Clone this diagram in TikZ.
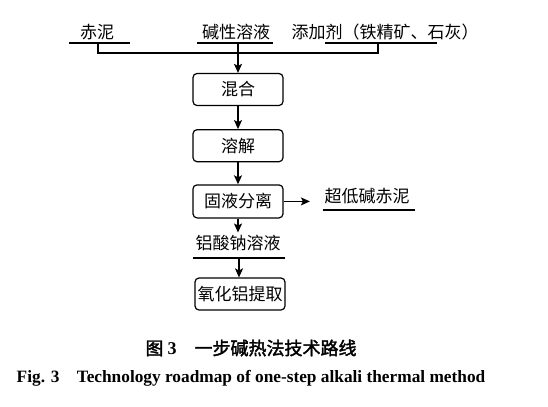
\documentclass[tikz,border=0pt]{standalone}
\usepackage{fontspec}
\setmainfont{Liberation Serif}
\newfontfamily\cjk{Noto Sans CJK SC}[AutoFakeBold=2]
\usetikzlibrary{positioning,arrows.meta}

\tikzset{
  procbox/.style={draw, rounded corners=4bp, minimum width=90bp, minimum height=32bp, inner sep=1bp, font=\cjk\fontsize{17bp}{20bp}\selectfont},
  lbl/.style={inner sep=0pt, font=\cjk\fontsize{17bp}{20bp}\selectfont},
  flow/.style={-{Stealth[length=9bp,width=8bp,inset=2bp]}, line width=1.3bp},
  uline/.style={line width=1.3bp},
}

\begin{document}
\begin{tikzpicture}[x=1bp, y=-1bp, line width=1.2bp]
\useasboundingbox (0,0) rectangle (548,406);

% raw materials
\node[lbl] (redmud) at (97,32) {赤泥};
\node[lbl] (alkali) at (236,32) {碱性溶液};
\node[lbl] (additive) at (385,32) {添加剂（铁精矿、石灰）};
\coordinate (rmL) at (69,43);  \coordinate (rmR) at (130,43);
\coordinate (alL) at (197,43); \coordinate (alR) at (273,43);
\coordinate (adL) at (325,43); \coordinate (adR) at (437,43);
\draw[uline] (rmL) -- (rmR);
\draw[uline] (alL) -- (alR);
\draw[uline] (adL) -- (adR);
\coordinate (rmD) at (98,43);
\coordinate (alD) at (238,43);
\coordinate (adD) at (378,43);
\draw[uline] (rmD) |- (238,53) -| (adD);

% process
\node[procbox] (mix) at (238,89.5) {混合};
\node[procbox, below=23bp of mix] (dissolve) {溶解};
\node[procbox, below=22bp of dissolve, minimum height=33bp] (sep) {固液分离};
\node[lbl] (aluminate) at (238,243) {铝酸钠溶液};
\coordinate (alumL) at (193,258); \coordinate (alumR) at (285,258);
\coordinate (alumD) at (239,258);
\draw[uline] (alumL) -- (alumR);
\node[procbox] (extract) at (240,294) {氧化铝提取};
\node[lbl] (residue) at (367,196) {超低碱赤泥};
\coordinate (resL) at (323,210); \coordinate (resR) at (415,210);
\draw[uline] (resL) -- (resR);

\draw[flow] (alD) -- (mix);
\draw[flow] (mix) -- (dissolve);
\draw[flow] (dissolve) -- (sep);
\draw[flow, shorten >=2bp] (sep.south) -- (sep.south |- aluminate.north);
\draw[flow] (alumD) -- (alumD |- extract.north);
\draw[flow, shorten >=14bp] (sep.east) -- (sep.east -| residue.west);

% caption
\node[inner sep=0pt, font=\fontsize{18bp}{21bp}\selectfont] (capcn) at (251,348)
  {\cjk\bfseries 图\ {\rmfamily 3}\hspace{1em}一步碱热法技术路线};
\node[inner sep=0pt, font=\bfseries\fontsize{17.3bp}{20bp}\selectfont] (capen) at (251,378)
  {Fig. 3\quad Technology roadmap of one-step alkali thermal method};
\end{tikzpicture}
\end{document}
